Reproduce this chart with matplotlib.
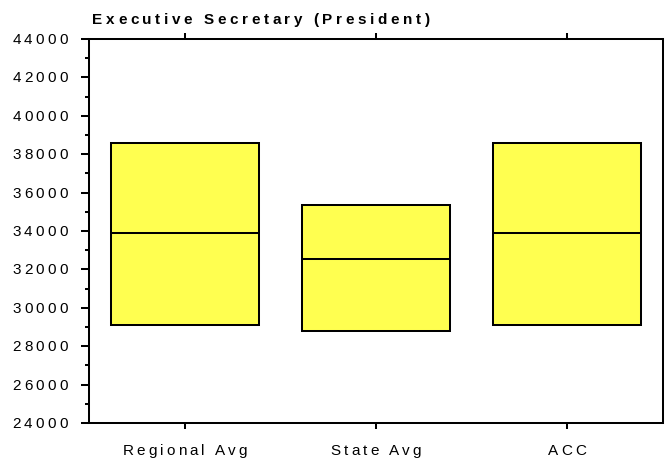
import matplotlib
matplotlib.use("Agg")
import matplotlib.pyplot as plt
import matplotlib.transforms as mtransforms
from matplotlib.font_manager import FontProperties, findfont, get_font
from matplotlib.ticker import MultipleLocator

# Salary ranges for the position (low, median, high)
categories = ["Regional Avg", "State Avg", "ACC"]
low_values = [29100, 28800, 29100]
median_values = [33900, 32550, 33900]
high_values = [38600, 35350, 38600]

y_ticks = [24000, 26000, 28000, 30000, 32000, 34000, 36000, 38000, 40000, 42000, 44000]
y_tick_labels = ["24000", "26000", "28000", "30000", "32000", "34000",
                 "36000", "38000", "40000", "42000", "44000"]
title_text = "Executive Secretary (President)"

FAMILY = "Liberation Sans"
BOX_COLOR = "#FFFF50"
LW = 1.45

fig = plt.figure(figsize=(6.65, 4.64), dpi=100)
ax = fig.add_axes([89 / 665, 1 - 424 / 464, (663 - 89) / 665, (424 - 40) / 464])


def char_advances(s, prop):
    font = get_font(findfont(prop))
    font.set_size(prop.get_size_in_points(), 72)
    return [font.load_char(ord(c)).linearHoriAdvance / 65536 for c in s]


def tracked_text(x, y, s, transform, size, track, ha="left", va="center",
                 weight="normal", dx=0.0, dy=0.0):
    """Draw a string with extra letter spacing (track, in points)."""
    prop = FontProperties(family=FAMILY, size=size, weight=weight)
    adv = char_advances(s, prop)
    total = sum(adv) + track * (len(s) - 1)
    pos = {"left": 0.0, "center": -total / 2, "right": -total}[ha] + dx
    for ch, a in zip(s, adv):
        if ch != " ":
            tr = mtransforms.offset_copy(transform, fig=fig, x=pos, y=dy, units="points")
            fig.text(x, y, ch, transform=tr, fontproperties=prop, ha="left", va=va,
                     color="black")
        pos += a + track


x_pos = list(range(len(categories)))
heights = [h - l for h, l in zip(high_values, low_values)]
box_w = 0.775
ax.bar(x_pos, heights, bottom=low_values, width=box_w, color=BOX_COLOR,
       edgecolor="black", linewidth=LW, zorder=2)
ax.hlines(median_values, [p - box_w / 2 for p in x_pos], [p + box_w / 2 for p in x_pos],
          colors="black", linewidth=LW, zorder=3)

ax.set_xlim(-0.5, len(categories) - 0.5)
ax.set_ylim(y_ticks[0], y_ticks[-1])
ax.set_yticks(y_ticks)
ax.set_yticklabels([])
ax.yaxis.set_minor_locator(MultipleLocator(1000))
ax.set_xticks(x_pos)
ax.set_xticklabels([])

for sp in ax.spines.values():
    sp.set_linewidth(LW)
ax.tick_params(axis="y", which="major", direction="out", length=5.8, width=LW, left=True, right=False)
ax.tick_params(axis="y", which="minor", direction="out", length=2.9, width=LW, left=True, right=False)
ax.tick_params(axis="x", which="major", direction="out", length=4.5, width=LW, top=True, bottom=True)

# y tick labels, right-aligned left of the axis
ytrans = mtransforms.blended_transform_factory(ax.transAxes, ax.transData)
for v, lab in zip(y_ticks, y_tick_labels):
    tracked_text(0, v, lab, ytrans, size=11, track=2.3, ha="right", va="center", dx=-15.5)

# category labels
xtrans = mtransforms.blended_transform_factory(ax.transData, ax.transAxes)
for p, lab in zip(x_pos, categories):
    tracked_text(p, 0, lab, xtrans, size=11, track=2.2, ha="center", va="center", dy=-19.5)

# title
tracked_text(92 / 665, 1 - 20 / 464, title_text, fig.transFigure, size=11, track=2.6,
             ha="left", va="center", weight="bold")

fig.savefig("out.png", dpi=100)
